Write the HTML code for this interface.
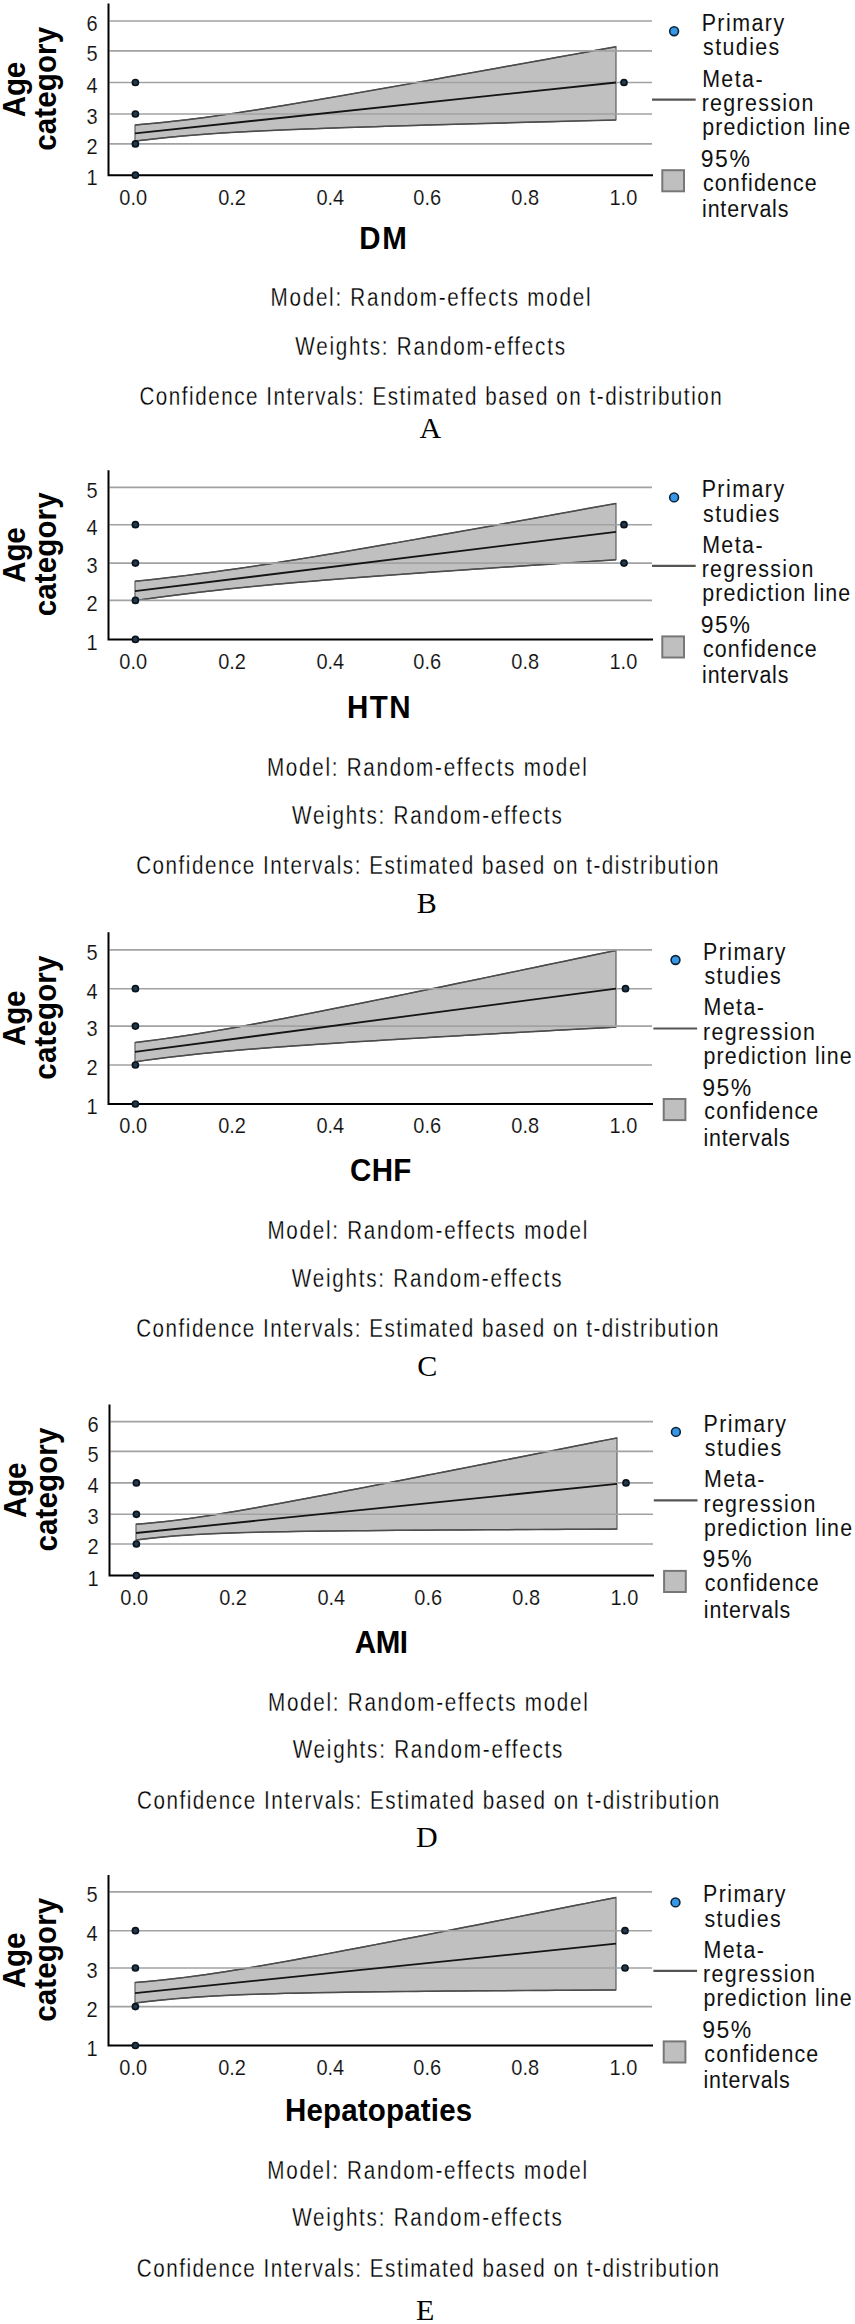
<!DOCTYPE html><html><head><meta charset="utf-8"><title>Meta-regression plots</title>
<style>html,body{margin:0;padding:0;background:#fff;overflow:hidden;}svg{display:block;}</style></head><body>
<svg width="855" height="2324" viewBox="0 0 855 2324">
<rect x="0" y="0" width="855" height="2324" fill="#ffffff"/>
<g>
<polygon points="135,125.1 145.02,124.09 155.04,123.17 165.06,122.17 175.08,121.09 185.1,119.94 195.12,118.7 205.15,117.39 215.17,116.02 225.19,114.6 235.21,113.12 245.23,111.6 255.25,110.04 265.27,108.45 275.29,106.83 285.31,105.19 295.33,103.53 305.35,101.85 315.38,100.16 325.4,98.45 335.42,96.73 345.44,95 355.46,93.26 365.48,91.52 375.5,89.76 385.52,88 395.54,86.24 405.56,84.47 415.58,82.7 425.6,80.92 435.62,79.14 445.65,77.36 455.67,75.57 465.69,73.78 475.71,71.99 485.73,70.19 495.75,68.4 505.77,66.6 515.79,64.8 525.81,63 535.83,61.2 545.85,59.39 555.88,57.59 565.9,55.78 575.92,53.97 585.94,52.16 595.96,50.36 605.98,48.54 616,46.7 616,120 605.98,120.23 595.96,120.49 585.94,120.75 575.92,121.01 565.9,121.27 555.88,121.54 545.85,121.8 535.83,122.07 525.81,122.34 515.79,122.61 505.77,122.88 495.75,123.15 485.73,123.43 475.71,123.7 465.69,123.98 455.67,124.26 445.65,124.55 435.62,124.83 425.6,125.12 415.58,125.42 405.56,125.72 395.54,126.02 385.52,126.32 375.5,126.64 365.48,126.95 355.46,127.28 345.44,127.61 335.42,127.95 325.4,128.31 315.38,128.67 305.35,129.05 295.33,129.44 285.31,129.85 275.29,130.28 265.27,130.73 255.25,131.21 245.23,131.72 235.21,132.27 225.19,132.87 215.17,133.51 205.15,134.21 195.12,134.98 185.1,135.81 175.08,136.72 165.06,137.71 155.04,138.78 145.02,139.94 135,141" fill="#c0c0c0" stroke="#5e5e5e" stroke-width="1.2"/>
<path d="M135 125.1 L145.02 124.09 L155.04 123.17 L165.06 122.17 L175.08 121.09 L185.1 119.94 L195.12 118.7 L205.15 117.39 L215.17 116.02 L225.19 114.6 L235.21 113.12 L245.23 111.6 L255.25 110.04 L265.27 108.45 L275.29 106.83 L285.31 105.19 L295.33 103.53 L305.35 101.85 L315.38 100.16 L325.4 98.45 L335.42 96.73 L345.44 95 L355.46 93.26 L365.48 91.52 L375.5 89.76 L385.52 88 L395.54 86.24 L405.56 84.47 L415.58 82.7 L425.6 80.92 L435.62 79.14 L445.65 77.36 L455.67 75.57 L465.69 73.78 L475.71 71.99 L485.73 70.19 L495.75 68.4 L505.77 66.6 L515.79 64.8 L525.81 63 L535.83 61.2 L545.85 59.39 L555.88 57.59 L565.9 55.78 L575.92 53.97 L585.94 52.16 L595.96 50.36 L605.98 48.54 L616 46.7 M135 141 L145.02 139.94 L155.04 138.78 L165.06 137.71 L175.08 136.72 L185.1 135.81 L195.12 134.98 L205.15 134.21 L215.17 133.51 L225.19 132.87 L235.21 132.27 L245.23 131.72 L255.25 131.21 L265.27 130.73 L275.29 130.28 L285.31 129.85 L295.33 129.44 L305.35 129.05 L315.38 128.67 L325.4 128.31 L335.42 127.95 L345.44 127.61 L355.46 127.28 L365.48 126.95 L375.5 126.64 L385.52 126.32 L395.54 126.02 L405.56 125.72 L415.58 125.42 L425.6 125.12 L435.62 124.83 L445.65 124.55 L455.67 124.26 L465.69 123.98 L475.71 123.7 L485.73 123.43 L495.75 123.15 L505.77 122.88 L515.79 122.61 L525.81 122.34 L535.83 122.07 L545.85 121.8 L555.88 121.54 L565.9 121.27 L575.92 121.01 L585.94 120.75 L595.96 120.49 L605.98 120.23 L616 120" fill="none" stroke="#4c4c4c" stroke-width="1.5"/>
<line x1="109.5" y1="143.9" x2="652" y2="143.9" stroke="#a2a2a2" stroke-width="1.6"/>
<line x1="109.5" y1="114" x2="652" y2="114" stroke="#a2a2a2" stroke-width="1.6"/>
<line x1="109.5" y1="82.5" x2="652" y2="82.5" stroke="#a2a2a2" stroke-width="1.6"/>
<line x1="109.5" y1="50.9" x2="652" y2="50.9" stroke="#a2a2a2" stroke-width="1.6"/>
<line x1="109.5" y1="21" x2="652" y2="21" stroke="#a2a2a2" stroke-width="1.6"/>
<line x1="135" y1="133.3" x2="616" y2="82.5" stroke="#141414" stroke-width="1.8"/>
<path d="M108.5 3.5 V175.2 H653" fill="none" stroke="#000" stroke-width="2"/>
<text transform="translate(97.5,185.35) scale(1,1.07)" x="0" y="0" font-family="Liberation Sans" font-size="20" text-anchor="end" fill="#111" stroke="#fff" stroke-width="0.12">1</text>
<text transform="translate(97.5,154.05) scale(1,1.07)" x="0" y="0" font-family="Liberation Sans" font-size="20" text-anchor="end" fill="#111" stroke="#fff" stroke-width="0.12">2</text>
<text transform="translate(97.5,124.15) scale(1,1.07)" x="0" y="0" font-family="Liberation Sans" font-size="20" text-anchor="end" fill="#111" stroke="#fff" stroke-width="0.12">3</text>
<text transform="translate(97.5,92.65) scale(1,1.07)" x="0" y="0" font-family="Liberation Sans" font-size="20" text-anchor="end" fill="#111" stroke="#fff" stroke-width="0.12">4</text>
<text transform="translate(97.5,61.05) scale(1,1.07)" x="0" y="0" font-family="Liberation Sans" font-size="20" text-anchor="end" fill="#111" stroke="#fff" stroke-width="0.12">5</text>
<text transform="translate(97.5,31.15) scale(1,1.07)" x="0" y="0" font-family="Liberation Sans" font-size="20" text-anchor="end" fill="#111" stroke="#fff" stroke-width="0.12">6</text>
<circle cx="135.4" cy="175.2" r="3.0" fill="#223a50" stroke="#0a141d" stroke-width="1.7"/>
<circle cx="135.4" cy="143.9" r="3.0" fill="#223a50" stroke="#0a141d" stroke-width="1.7"/>
<circle cx="135.4" cy="114" r="3.0" fill="#223a50" stroke="#0a141d" stroke-width="1.7"/>
<circle cx="135.4" cy="82.5" r="3.0" fill="#223a50" stroke="#0a141d" stroke-width="1.7"/>
<circle cx="624" cy="82.5" r="3.0" fill="#223a50" stroke="#0a141d" stroke-width="1.7"/>
<text transform="translate(25.3,117.25) rotate(-90) scale(1,1.05)" x="0" y="0" font-family="Liberation Sans" font-size="29.5" font-weight="bold" fill="#000" textLength="55.53" lengthAdjust="spacing">Age</text>
<text transform="translate(55.8,150.85) rotate(-90) scale(1,1.05)" x="0" y="0" font-family="Liberation Sans" font-size="29.5" font-weight="bold" fill="#000" textLength="123.98" lengthAdjust="spacing">category</text>
<circle cx="674.1" cy="31.2" r="4.4" fill="#3597e6" stroke="#0c2236" stroke-width="1.6"/>
<line x1="652" y1="99.7" x2="695.7" y2="99.7" stroke="#555" stroke-width="2.2"/>
<rect x="662.3" y="170.2" width="21.7" height="21.1" fill="#bfbfbf" stroke="#777" stroke-width="2"/>
</g>
<g>
<polygon points="135,581.3 145.02,580.24 155.04,579.15 165.06,578.01 175.08,576.84 185.1,575.62 195.12,574.36 205.15,573.06 215.17,571.72 225.19,570.34 235.21,568.92 245.23,567.47 255.25,565.98 265.27,564.46 275.29,562.91 285.31,561.34 295.33,559.74 305.35,558.13 315.38,556.49 325.4,554.83 335.42,553.16 345.44,551.48 355.46,549.78 365.48,548.07 375.5,546.35 385.52,544.61 395.54,542.87 405.56,541.13 415.58,539.37 425.6,537.61 435.62,535.84 445.65,534.07 455.67,532.29 465.69,530.51 475.71,528.72 485.73,526.93 495.75,525.14 505.77,523.34 515.79,521.54 525.81,519.73 535.83,517.93 545.85,516.12 555.88,514.31 565.9,512.49 575.92,510.68 585.94,508.86 595.96,507.04 605.98,505.22 616,503.4 616,559.8 605.98,560.45 595.96,561.1 585.94,561.76 575.92,562.41 565.9,563.07 555.88,563.73 545.85,564.39 535.83,565.06 525.81,565.72 515.79,566.39 505.77,567.06 495.75,567.74 485.73,568.42 475.71,569.1 465.69,569.79 455.67,570.48 445.65,571.17 435.62,571.87 425.6,572.58 415.58,573.29 405.56,574 395.54,574.73 385.52,575.46 375.5,576.2 365.48,576.96 355.46,577.72 345.44,578.49 335.42,579.28 325.4,580.08 315.38,580.9 305.35,581.73 295.33,582.59 285.31,583.46 275.29,584.37 265.27,585.29 255.25,586.25 245.23,587.23 235.21,588.25 225.19,589.3 215.17,590.4 205.15,591.53 195.12,592.7 185.1,593.91 175.08,595.17 165.06,596.47 155.04,597.81 145.02,599.18 135,600.6" fill="#c0c0c0" stroke="#5e5e5e" stroke-width="1.2"/>
<path d="M135 581.3 L145.02 580.24 L155.04 579.15 L165.06 578.01 L175.08 576.84 L185.1 575.62 L195.12 574.36 L205.15 573.06 L215.17 571.72 L225.19 570.34 L235.21 568.92 L245.23 567.47 L255.25 565.98 L265.27 564.46 L275.29 562.91 L285.31 561.34 L295.33 559.74 L305.35 558.13 L315.38 556.49 L325.4 554.83 L335.42 553.16 L345.44 551.48 L355.46 549.78 L365.48 548.07 L375.5 546.35 L385.52 544.61 L395.54 542.87 L405.56 541.13 L415.58 539.37 L425.6 537.61 L435.62 535.84 L445.65 534.07 L455.67 532.29 L465.69 530.51 L475.71 528.72 L485.73 526.93 L495.75 525.14 L505.77 523.34 L515.79 521.54 L525.81 519.73 L535.83 517.93 L545.85 516.12 L555.88 514.31 L565.9 512.49 L575.92 510.68 L585.94 508.86 L595.96 507.04 L605.98 505.22 L616 503.4 M135 600.6 L145.02 599.18 L155.04 597.81 L165.06 596.47 L175.08 595.17 L185.1 593.91 L195.12 592.7 L205.15 591.53 L215.17 590.4 L225.19 589.3 L235.21 588.25 L245.23 587.23 L255.25 586.25 L265.27 585.29 L275.29 584.37 L285.31 583.46 L295.33 582.59 L305.35 581.73 L315.38 580.9 L325.4 580.08 L335.42 579.28 L345.44 578.49 L355.46 577.72 L365.48 576.96 L375.5 576.2 L385.52 575.46 L395.54 574.73 L405.56 574 L415.58 573.29 L425.6 572.58 L435.62 571.87 L445.65 571.17 L455.67 570.48 L465.69 569.79 L475.71 569.1 L485.73 568.42 L495.75 567.74 L505.77 567.06 L515.79 566.39 L525.81 565.72 L535.83 565.06 L545.85 564.39 L555.88 563.73 L565.9 563.07 L575.92 562.41 L585.94 561.76 L595.96 561.1 L605.98 560.45 L616 559.8" fill="none" stroke="#4c4c4c" stroke-width="1.5"/>
<line x1="109.5" y1="600.4" x2="652" y2="600.4" stroke="#a2a2a2" stroke-width="1.6"/>
<line x1="109.5" y1="563.1" x2="652" y2="563.1" stroke="#a2a2a2" stroke-width="1.6"/>
<line x1="109.5" y1="524.7" x2="652" y2="524.7" stroke="#a2a2a2" stroke-width="1.6"/>
<line x1="109.5" y1="487.4" x2="652" y2="487.4" stroke="#a2a2a2" stroke-width="1.6"/>
<line x1="135" y1="591.2" x2="616" y2="531.8" stroke="#141414" stroke-width="1.8"/>
<path d="M108.5 470.3 V639.4 H653" fill="none" stroke="#000" stroke-width="2"/>
<text transform="translate(97.5,649.55) scale(1,1.07)" x="0" y="0" font-family="Liberation Sans" font-size="20" text-anchor="end" fill="#111" stroke="#fff" stroke-width="0.12">1</text>
<text transform="translate(97.5,610.55) scale(1,1.07)" x="0" y="0" font-family="Liberation Sans" font-size="20" text-anchor="end" fill="#111" stroke="#fff" stroke-width="0.12">2</text>
<text transform="translate(97.5,573.25) scale(1,1.07)" x="0" y="0" font-family="Liberation Sans" font-size="20" text-anchor="end" fill="#111" stroke="#fff" stroke-width="0.12">3</text>
<text transform="translate(97.5,534.85) scale(1,1.07)" x="0" y="0" font-family="Liberation Sans" font-size="20" text-anchor="end" fill="#111" stroke="#fff" stroke-width="0.12">4</text>
<text transform="translate(97.5,497.55) scale(1,1.07)" x="0" y="0" font-family="Liberation Sans" font-size="20" text-anchor="end" fill="#111" stroke="#fff" stroke-width="0.12">5</text>
<circle cx="135.4" cy="639.4" r="3.0" fill="#223a50" stroke="#0a141d" stroke-width="1.7"/>
<circle cx="135.4" cy="600.4" r="3.0" fill="#223a50" stroke="#0a141d" stroke-width="1.7"/>
<circle cx="135.4" cy="563.1" r="3.0" fill="#223a50" stroke="#0a141d" stroke-width="1.7"/>
<circle cx="135.4" cy="524.7" r="3.0" fill="#223a50" stroke="#0a141d" stroke-width="1.7"/>
<circle cx="624" cy="563.1" r="3.0" fill="#223a50" stroke="#0a141d" stroke-width="1.7"/>
<circle cx="624" cy="524.7" r="3.0" fill="#223a50" stroke="#0a141d" stroke-width="1.7"/>
<text transform="translate(25.3,582.75) rotate(-90) scale(1,1.05)" x="0" y="0" font-family="Liberation Sans" font-size="29.5" font-weight="bold" fill="#000" textLength="55.53" lengthAdjust="spacing">Age</text>
<text transform="translate(55.8,616.35) rotate(-90) scale(1,1.05)" x="0" y="0" font-family="Liberation Sans" font-size="29.5" font-weight="bold" fill="#000" textLength="123.98" lengthAdjust="spacing">category</text>
<circle cx="674.1" cy="497.4" r="4.4" fill="#3597e6" stroke="#0c2236" stroke-width="1.6"/>
<line x1="652" y1="565.9" x2="695.7" y2="565.9" stroke="#555" stroke-width="2.2"/>
<rect x="662.3" y="636.4" width="21.7" height="21.1" fill="#bfbfbf" stroke="#777" stroke-width="2"/>
</g>
<g>
<polygon points="135,1042.5 145.02,1041.28 155.04,1039.99 165.06,1038.63 175.08,1037.2 185.1,1035.71 195.12,1034.15 205.15,1032.54 215.17,1030.88 225.19,1029.17 235.21,1027.41 245.23,1025.62 255.25,1023.79 265.27,1021.93 275.29,1020.05 285.31,1018.14 295.33,1016.21 305.35,1014.26 315.38,1012.3 325.4,1010.32 335.42,1008.33 345.44,1006.33 355.46,1004.32 365.48,1002.3 375.5,1000.27 385.52,998.23 395.54,996.19 405.56,994.14 415.58,992.09 425.6,990.03 435.62,987.97 445.65,985.91 455.67,983.84 465.69,981.76 475.71,979.69 485.73,977.61 495.75,975.53 505.77,973.44 515.79,971.36 525.81,969.27 535.83,967.18 545.85,965.08 555.88,962.99 565.9,960.9 575.92,958.8 585.94,956.7 595.96,954.6 605.98,952.5 616,950.4 616,1027.1 605.98,1027.64 595.96,1028.18 585.94,1028.72 575.92,1029.27 565.9,1029.81 555.88,1030.36 545.85,1030.91 535.83,1031.46 525.81,1032.01 515.79,1032.56 505.77,1033.12 495.75,1033.67 485.73,1034.23 475.71,1034.8 465.69,1035.36 455.67,1035.93 445.65,1036.5 435.62,1037.08 425.6,1037.66 415.58,1038.24 405.56,1038.83 395.54,1039.42 385.52,1040.02 375.5,1040.63 365.48,1041.24 355.46,1041.87 345.44,1042.5 335.42,1043.14 325.4,1043.79 315.38,1044.45 305.35,1045.13 295.33,1045.83 285.31,1046.54 275.29,1047.27 265.27,1048.03 255.25,1048.81 245.23,1049.62 235.21,1050.47 225.19,1051.36 215.17,1052.29 205.15,1053.26 195.12,1054.3 185.1,1055.38 175.08,1056.53 165.06,1057.75 155.04,1059.03 145.02,1060.38 135,1061.8" fill="#c0c0c0" stroke="#5e5e5e" stroke-width="1.2"/>
<path d="M135 1042.5 L145.02 1041.28 L155.04 1039.99 L165.06 1038.63 L175.08 1037.2 L185.1 1035.71 L195.12 1034.15 L205.15 1032.54 L215.17 1030.88 L225.19 1029.17 L235.21 1027.41 L245.23 1025.62 L255.25 1023.79 L265.27 1021.93 L275.29 1020.05 L285.31 1018.14 L295.33 1016.21 L305.35 1014.26 L315.38 1012.3 L325.4 1010.32 L335.42 1008.33 L345.44 1006.33 L355.46 1004.32 L365.48 1002.3 L375.5 1000.27 L385.52 998.23 L395.54 996.19 L405.56 994.14 L415.58 992.09 L425.6 990.03 L435.62 987.97 L445.65 985.91 L455.67 983.84 L465.69 981.76 L475.71 979.69 L485.73 977.61 L495.75 975.53 L505.77 973.44 L515.79 971.36 L525.81 969.27 L535.83 967.18 L545.85 965.08 L555.88 962.99 L565.9 960.9 L575.92 958.8 L585.94 956.7 L595.96 954.6 L605.98 952.5 L616 950.4 M135 1061.8 L145.02 1060.38 L155.04 1059.03 L165.06 1057.75 L175.08 1056.53 L185.1 1055.38 L195.12 1054.3 L205.15 1053.26 L215.17 1052.29 L225.19 1051.36 L235.21 1050.47 L245.23 1049.62 L255.25 1048.81 L265.27 1048.03 L275.29 1047.27 L285.31 1046.54 L295.33 1045.83 L305.35 1045.13 L315.38 1044.45 L325.4 1043.79 L335.42 1043.14 L345.44 1042.5 L355.46 1041.87 L365.48 1041.24 L375.5 1040.63 L385.52 1040.02 L395.54 1039.42 L405.56 1038.83 L415.58 1038.24 L425.6 1037.66 L435.62 1037.08 L445.65 1036.5 L455.67 1035.93 L465.69 1035.36 L475.71 1034.8 L485.73 1034.23 L495.75 1033.67 L505.77 1033.12 L515.79 1032.56 L525.81 1032.01 L535.83 1031.46 L545.85 1030.91 L555.88 1030.36 L565.9 1029.81 L575.92 1029.27 L585.94 1028.72 L595.96 1028.18 L605.98 1027.64 L616 1027.1" fill="none" stroke="#4c4c4c" stroke-width="1.5"/>
<line x1="109.5" y1="1065" x2="652" y2="1065" stroke="#a2a2a2" stroke-width="1.6"/>
<line x1="109.5" y1="1026.1" x2="652" y2="1026.1" stroke="#a2a2a2" stroke-width="1.6"/>
<line x1="109.5" y1="988.7" x2="652" y2="988.7" stroke="#a2a2a2" stroke-width="1.6"/>
<line x1="109.5" y1="949.9" x2="652" y2="949.9" stroke="#a2a2a2" stroke-width="1.6"/>
<line x1="135" y1="1051.9" x2="616" y2="988.7" stroke="#141414" stroke-width="1.8"/>
<path d="M108.5 932.3 V1104 H653" fill="none" stroke="#000" stroke-width="2"/>
<text transform="translate(97.5,1114.15) scale(1,1.07)" x="0" y="0" font-family="Liberation Sans" font-size="20" text-anchor="end" fill="#111" stroke="#fff" stroke-width="0.12">1</text>
<text transform="translate(97.5,1075.15) scale(1,1.07)" x="0" y="0" font-family="Liberation Sans" font-size="20" text-anchor="end" fill="#111" stroke="#fff" stroke-width="0.12">2</text>
<text transform="translate(97.5,1036.25) scale(1,1.07)" x="0" y="0" font-family="Liberation Sans" font-size="20" text-anchor="end" fill="#111" stroke="#fff" stroke-width="0.12">3</text>
<text transform="translate(97.5,998.85) scale(1,1.07)" x="0" y="0" font-family="Liberation Sans" font-size="20" text-anchor="end" fill="#111" stroke="#fff" stroke-width="0.12">4</text>
<text transform="translate(97.5,960.05) scale(1,1.07)" x="0" y="0" font-family="Liberation Sans" font-size="20" text-anchor="end" fill="#111" stroke="#fff" stroke-width="0.12">5</text>
<circle cx="135.4" cy="1104" r="3.0" fill="#223a50" stroke="#0a141d" stroke-width="1.7"/>
<circle cx="135.4" cy="1065" r="3.0" fill="#223a50" stroke="#0a141d" stroke-width="1.7"/>
<circle cx="135.4" cy="1026.1" r="3.0" fill="#223a50" stroke="#0a141d" stroke-width="1.7"/>
<circle cx="135.4" cy="988.7" r="3.0" fill="#223a50" stroke="#0a141d" stroke-width="1.7"/>
<circle cx="625.5" cy="988.7" r="3.0" fill="#223a50" stroke="#0a141d" stroke-width="1.7"/>
<text transform="translate(25.3,1046.05) rotate(-90) scale(1,1.05)" x="0" y="0" font-family="Liberation Sans" font-size="29.5" font-weight="bold" fill="#000" textLength="55.53" lengthAdjust="spacing">Age</text>
<text transform="translate(55.8,1079.65) rotate(-90) scale(1,1.05)" x="0" y="0" font-family="Liberation Sans" font-size="29.5" font-weight="bold" fill="#000" textLength="123.98" lengthAdjust="spacing">category</text>
<circle cx="675.5" cy="960" r="4.4" fill="#3597e6" stroke="#0c2236" stroke-width="1.6"/>
<line x1="653.4" y1="1028.5" x2="697.1" y2="1028.5" stroke="#555" stroke-width="2.2"/>
<rect x="663.7" y="1099" width="21.7" height="21.1" fill="#bfbfbf" stroke="#777" stroke-width="2"/>
</g>
<g>
<polygon points="136,1524.2 146.02,1523.39 156.04,1522.46 166.06,1521.41 176.08,1520.23 186.1,1518.93 196.12,1517.53 206.15,1516.04 216.17,1514.47 226.19,1512.84 236.21,1511.15 246.23,1509.42 256.25,1507.66 266.27,1505.86 276.29,1504.04 286.31,1502.19 296.33,1500.33 306.35,1498.46 316.38,1496.57 326.4,1494.67 336.42,1492.77 346.44,1490.85 356.46,1488.93 366.48,1487 376.5,1485.06 386.52,1483.13 396.54,1481.18 406.56,1479.24 416.58,1477.29 426.6,1475.33 436.62,1473.38 446.65,1471.42 456.67,1469.46 466.69,1467.49 476.71,1465.53 486.73,1463.56 496.75,1461.6 506.77,1459.63 516.79,1457.66 526.81,1455.69 536.83,1453.71 546.85,1451.74 556.88,1449.76 566.9,1447.79 576.92,1445.81 586.94,1443.84 596.96,1441.86 606.98,1439.88 617,1437.9 617,1529.1 606.98,1529.15 596.96,1529.19 586.94,1529.24 576.92,1529.29 566.9,1529.34 556.88,1529.39 546.85,1529.44 536.83,1529.49 526.81,1529.54 516.79,1529.59 506.77,1529.65 496.75,1529.7 486.73,1529.76 476.71,1529.82 466.69,1529.88 456.67,1529.94 446.65,1530.01 436.62,1530.07 426.6,1530.14 416.58,1530.21 406.56,1530.29 396.54,1530.37 386.52,1530.45 376.5,1530.54 366.48,1530.63 356.46,1530.72 346.44,1530.83 336.42,1530.93 326.4,1531.05 316.38,1531.18 306.35,1531.32 296.33,1531.47 286.31,1531.63 276.29,1531.81 266.27,1532.02 256.25,1532.24 246.23,1532.5 236.21,1532.8 226.19,1533.14 216.17,1533.53 206.15,1533.99 196.12,1534.52 186.1,1535.14 176.08,1535.87 166.06,1536.72 156.04,1537.69 146.02,1538.78 136,1540" fill="#c0c0c0" stroke="#5e5e5e" stroke-width="1.2"/>
<path d="M136 1524.2 L146.02 1523.39 L156.04 1522.46 L166.06 1521.41 L176.08 1520.23 L186.1 1518.93 L196.12 1517.53 L206.15 1516.04 L216.17 1514.47 L226.19 1512.84 L236.21 1511.15 L246.23 1509.42 L256.25 1507.66 L266.27 1505.86 L276.29 1504.04 L286.31 1502.19 L296.33 1500.33 L306.35 1498.46 L316.38 1496.57 L326.4 1494.67 L336.42 1492.77 L346.44 1490.85 L356.46 1488.93 L366.48 1487 L376.5 1485.06 L386.52 1483.13 L396.54 1481.18 L406.56 1479.24 L416.58 1477.29 L426.6 1475.33 L436.62 1473.38 L446.65 1471.42 L456.67 1469.46 L466.69 1467.49 L476.71 1465.53 L486.73 1463.56 L496.75 1461.6 L506.77 1459.63 L516.79 1457.66 L526.81 1455.69 L536.83 1453.71 L546.85 1451.74 L556.88 1449.76 L566.9 1447.79 L576.92 1445.81 L586.94 1443.84 L596.96 1441.86 L606.98 1439.88 L617 1437.9 M136 1540 L146.02 1538.78 L156.04 1537.69 L166.06 1536.72 L176.08 1535.87 L186.1 1535.14 L196.12 1534.52 L206.15 1533.99 L216.17 1533.53 L226.19 1533.14 L236.21 1532.8 L246.23 1532.5 L256.25 1532.24 L266.27 1532.02 L276.29 1531.81 L286.31 1531.63 L296.33 1531.47 L306.35 1531.32 L316.38 1531.18 L326.4 1531.05 L336.42 1530.93 L346.44 1530.83 L356.46 1530.72 L366.48 1530.63 L376.5 1530.54 L386.52 1530.45 L396.54 1530.37 L406.56 1530.29 L416.58 1530.21 L426.6 1530.14 L436.62 1530.07 L446.65 1530.01 L456.67 1529.94 L466.69 1529.88 L476.71 1529.82 L486.73 1529.76 L496.75 1529.7 L506.77 1529.65 L516.79 1529.59 L526.81 1529.54 L536.83 1529.49 L546.85 1529.44 L556.88 1529.39 L566.9 1529.34 L576.92 1529.29 L586.94 1529.24 L596.96 1529.19 L606.98 1529.15 L617 1529.1" fill="none" stroke="#4c4c4c" stroke-width="1.5"/>
<line x1="110.5" y1="1544" x2="653" y2="1544" stroke="#a2a2a2" stroke-width="1.6"/>
<line x1="110.5" y1="1514.3" x2="653" y2="1514.3" stroke="#a2a2a2" stroke-width="1.6"/>
<line x1="110.5" y1="1482.9" x2="653" y2="1482.9" stroke="#a2a2a2" stroke-width="1.6"/>
<line x1="110.5" y1="1451.4" x2="653" y2="1451.4" stroke="#a2a2a2" stroke-width="1.6"/>
<line x1="110.5" y1="1421.6" x2="653" y2="1421.6" stroke="#a2a2a2" stroke-width="1.6"/>
<line x1="136" y1="1533" x2="617" y2="1483.9" stroke="#141414" stroke-width="1.8"/>
<path d="M109.5 1404.6 V1575.6 H654" fill="none" stroke="#000" stroke-width="2"/>
<text transform="translate(98.5,1585.75) scale(1,1.07)" x="0" y="0" font-family="Liberation Sans" font-size="20" text-anchor="end" fill="#111" stroke="#fff" stroke-width="0.12">1</text>
<text transform="translate(98.5,1554.15) scale(1,1.07)" x="0" y="0" font-family="Liberation Sans" font-size="20" text-anchor="end" fill="#111" stroke="#fff" stroke-width="0.12">2</text>
<text transform="translate(98.5,1524.45) scale(1,1.07)" x="0" y="0" font-family="Liberation Sans" font-size="20" text-anchor="end" fill="#111" stroke="#fff" stroke-width="0.12">3</text>
<text transform="translate(98.5,1493.05) scale(1,1.07)" x="0" y="0" font-family="Liberation Sans" font-size="20" text-anchor="end" fill="#111" stroke="#fff" stroke-width="0.12">4</text>
<text transform="translate(98.5,1461.55) scale(1,1.07)" x="0" y="0" font-family="Liberation Sans" font-size="20" text-anchor="end" fill="#111" stroke="#fff" stroke-width="0.12">5</text>
<text transform="translate(98.5,1431.75) scale(1,1.07)" x="0" y="0" font-family="Liberation Sans" font-size="20" text-anchor="end" fill="#111" stroke="#fff" stroke-width="0.12">6</text>
<circle cx="136.4" cy="1575.6" r="3.0" fill="#223a50" stroke="#0a141d" stroke-width="1.7"/>
<circle cx="136.4" cy="1544" r="3.0" fill="#223a50" stroke="#0a141d" stroke-width="1.7"/>
<circle cx="136.4" cy="1514.3" r="3.0" fill="#223a50" stroke="#0a141d" stroke-width="1.7"/>
<circle cx="136.4" cy="1482.9" r="3.0" fill="#223a50" stroke="#0a141d" stroke-width="1.7"/>
<circle cx="626" cy="1482.9" r="3.0" fill="#223a50" stroke="#0a141d" stroke-width="1.7"/>
<text transform="translate(26.3,1518) rotate(-90) scale(1,1.05)" x="0" y="0" font-family="Liberation Sans" font-size="29.5" font-weight="bold" fill="#000" textLength="55.53" lengthAdjust="spacing">Age</text>
<text transform="translate(56.8,1551.6) rotate(-90) scale(1,1.05)" x="0" y="0" font-family="Liberation Sans" font-size="29.5" font-weight="bold" fill="#000" textLength="123.98" lengthAdjust="spacing">category</text>
<circle cx="675.9" cy="1431.9" r="4.4" fill="#3597e6" stroke="#0c2236" stroke-width="1.6"/>
<line x1="653.8" y1="1500.4" x2="697.5" y2="1500.4" stroke="#555" stroke-width="2.2"/>
<rect x="664.1" y="1570.9" width="21.7" height="21.1" fill="#bfbfbf" stroke="#777" stroke-width="2"/>
</g>
<g>
<polygon points="135,1982.5 145.02,1981.67 155.04,1980.74 165.06,1979.71 175.08,1978.59 185.1,1977.37 195.12,1976.06 205.15,1974.66 215.17,1973.2 225.19,1971.66 235.21,1970.07 245.23,1968.43 255.25,1966.74 265.27,1965.01 275.29,1963.26 285.31,1961.47 295.33,1959.66 305.35,1957.83 315.38,1955.99 325.4,1954.12 335.42,1952.25 345.44,1950.36 355.46,1948.46 365.48,1946.55 375.5,1944.63 385.52,1942.7 395.54,1940.77 405.56,1938.83 415.58,1936.89 425.6,1934.94 435.62,1932.99 445.65,1931.03 455.67,1929.07 465.69,1927.11 475.71,1925.14 485.73,1923.17 495.75,1921.2 505.77,1919.23 515.79,1917.25 525.81,1915.27 535.83,1913.29 545.85,1911.31 555.88,1909.33 565.9,1907.34 575.92,1905.36 585.94,1903.37 595.96,1901.38 605.98,1899.39 616,1897.4 616,1990 605.98,1990.05 595.96,1990.11 585.94,1990.16 575.92,1990.22 565.9,1990.28 555.88,1990.33 545.85,1990.4 535.83,1990.46 525.81,1990.52 515.79,1990.59 505.77,1990.65 495.75,1990.72 485.73,1990.8 475.71,1990.87 465.69,1990.95 455.67,1991.03 445.65,1991.11 435.62,1991.2 425.6,1991.29 415.58,1991.39 405.56,1991.49 395.54,1991.59 385.52,1991.7 375.5,1991.82 365.48,1991.95 355.46,1992.08 345.44,1992.22 335.42,1992.38 325.4,1992.55 315.38,1992.73 305.35,1992.92 295.33,1993.14 285.31,1993.37 275.29,1993.63 265.27,1993.92 255.25,1994.24 245.23,1994.59 235.21,1994.99 225.19,1995.45 215.17,1995.95 205.15,1996.53 195.12,1997.18 185.1,1997.91 175.08,1998.74 165.06,1999.66 155.04,2000.67 145.02,2001.79 135,2003" fill="#c0c0c0" stroke="#5e5e5e" stroke-width="1.2"/>
<path d="M135 1982.5 L145.02 1981.67 L155.04 1980.74 L165.06 1979.71 L175.08 1978.59 L185.1 1977.37 L195.12 1976.06 L205.15 1974.66 L215.17 1973.2 L225.19 1971.66 L235.21 1970.07 L245.23 1968.43 L255.25 1966.74 L265.27 1965.01 L275.29 1963.26 L285.31 1961.47 L295.33 1959.66 L305.35 1957.83 L315.38 1955.99 L325.4 1954.12 L335.42 1952.25 L345.44 1950.36 L355.46 1948.46 L365.48 1946.55 L375.5 1944.63 L385.52 1942.7 L395.54 1940.77 L405.56 1938.83 L415.58 1936.89 L425.6 1934.94 L435.62 1932.99 L445.65 1931.03 L455.67 1929.07 L465.69 1927.11 L475.71 1925.14 L485.73 1923.17 L495.75 1921.2 L505.77 1919.23 L515.79 1917.25 L525.81 1915.27 L535.83 1913.29 L545.85 1911.31 L555.88 1909.33 L565.9 1907.34 L575.92 1905.36 L585.94 1903.37 L595.96 1901.38 L605.98 1899.39 L616 1897.4 M135 2003 L145.02 2001.79 L155.04 2000.67 L165.06 1999.66 L175.08 1998.74 L185.1 1997.91 L195.12 1997.18 L205.15 1996.53 L215.17 1995.95 L225.19 1995.45 L235.21 1994.99 L245.23 1994.59 L255.25 1994.24 L265.27 1993.92 L275.29 1993.63 L285.31 1993.37 L295.33 1993.14 L305.35 1992.92 L315.38 1992.73 L325.4 1992.55 L335.42 1992.38 L345.44 1992.22 L355.46 1992.08 L365.48 1991.95 L375.5 1991.82 L385.52 1991.7 L395.54 1991.59 L405.56 1991.49 L415.58 1991.39 L425.6 1991.29 L435.62 1991.2 L445.65 1991.11 L455.67 1991.03 L465.69 1990.95 L475.71 1990.87 L485.73 1990.8 L495.75 1990.72 L505.77 1990.65 L515.79 1990.59 L525.81 1990.52 L535.83 1990.46 L545.85 1990.4 L555.88 1990.33 L565.9 1990.28 L575.92 1990.22 L585.94 1990.16 L595.96 1990.11 L605.98 1990.05 L616 1990" fill="none" stroke="#4c4c4c" stroke-width="1.5"/>
<line x1="109.5" y1="2006.6" x2="652" y2="2006.6" stroke="#a2a2a2" stroke-width="1.6"/>
<line x1="109.5" y1="1968" x2="652" y2="1968" stroke="#a2a2a2" stroke-width="1.6"/>
<line x1="109.5" y1="1930.7" x2="652" y2="1930.7" stroke="#a2a2a2" stroke-width="1.6"/>
<line x1="109.5" y1="1891.9" x2="652" y2="1891.9" stroke="#a2a2a2" stroke-width="1.6"/>
<line x1="135" y1="1993.1" x2="616" y2="1943.7" stroke="#141414" stroke-width="1.8"/>
<path d="M108.5 1875 V2045.5 H653" fill="none" stroke="#000" stroke-width="2"/>
<text transform="translate(97.5,2055.65) scale(1,1.07)" x="0" y="0" font-family="Liberation Sans" font-size="20" text-anchor="end" fill="#111" stroke="#fff" stroke-width="0.12">1</text>
<text transform="translate(97.5,2016.75) scale(1,1.07)" x="0" y="0" font-family="Liberation Sans" font-size="20" text-anchor="end" fill="#111" stroke="#fff" stroke-width="0.12">2</text>
<text transform="translate(97.5,1978.15) scale(1,1.07)" x="0" y="0" font-family="Liberation Sans" font-size="20" text-anchor="end" fill="#111" stroke="#fff" stroke-width="0.12">3</text>
<text transform="translate(97.5,1940.85) scale(1,1.07)" x="0" y="0" font-family="Liberation Sans" font-size="20" text-anchor="end" fill="#111" stroke="#fff" stroke-width="0.12">4</text>
<text transform="translate(97.5,1902.05) scale(1,1.07)" x="0" y="0" font-family="Liberation Sans" font-size="20" text-anchor="end" fill="#111" stroke="#fff" stroke-width="0.12">5</text>
<circle cx="135.4" cy="2045.5" r="3.0" fill="#223a50" stroke="#0a141d" stroke-width="1.7"/>
<circle cx="135.4" cy="2006.6" r="3.0" fill="#223a50" stroke="#0a141d" stroke-width="1.7"/>
<circle cx="135.4" cy="1968" r="3.0" fill="#223a50" stroke="#0a141d" stroke-width="1.7"/>
<circle cx="135.4" cy="1930.7" r="3.0" fill="#223a50" stroke="#0a141d" stroke-width="1.7"/>
<circle cx="625" cy="1968" r="3.0" fill="#223a50" stroke="#0a141d" stroke-width="1.7"/>
<circle cx="625" cy="1930.7" r="3.0" fill="#223a50" stroke="#0a141d" stroke-width="1.7"/>
<text transform="translate(25.3,1988.15) rotate(-90) scale(1,1.05)" x="0" y="0" font-family="Liberation Sans" font-size="29.5" font-weight="bold" fill="#000" textLength="55.53" lengthAdjust="spacing">Age</text>
<text transform="translate(55.8,2021.75) rotate(-90) scale(1,1.05)" x="0" y="0" font-family="Liberation Sans" font-size="29.5" font-weight="bold" fill="#000" textLength="123.98" lengthAdjust="spacing">category</text>
<circle cx="675.5" cy="1902.4" r="4.4" fill="#3597e6" stroke="#0c2236" stroke-width="1.6"/>
<line x1="653.4" y1="1970.9" x2="697.1" y2="1970.9" stroke="#555" stroke-width="2.2"/>
<rect x="663.7" y="2041.4" width="21.7" height="21.1" fill="#bfbfbf" stroke="#777" stroke-width="2"/>
</g>
<text transform="translate(270.58,306.3) scale(0.86,1.05)" x="0" y="0" font-family="Liberation Sans" font-size="24" fill="#000" stroke="#fff" stroke-width="0.25" textLength="371.97" lengthAdjust="spacing">Model: Random-effects model</text>
<text transform="translate(295.3,354.6) scale(0.86,1.05)" x="0" y="0" font-family="Liberation Sans" font-size="24" fill="#000" stroke="#fff" stroke-width="0.25" textLength="313.6" lengthAdjust="spacing">Weights: Random-effects</text>
<text transform="translate(139.44,405.1) scale(0.86,1.05)" x="0" y="0" font-family="Liberation Sans" font-size="24" fill="#000" stroke="#fff" stroke-width="0.25" textLength="677.07" lengthAdjust="spacing">Confidence Intervals: Estimated based on t-distribution</text>
<text transform="translate(359.3,249) scale(1.0,1.06)" x="0" y="0" font-family="Liberation Sans" font-size="29.5" font-weight="bold" fill="#000" textLength="47.49" lengthAdjust="spacing">DM</text>
<text x="419.6" y="438" font-family="Liberation Serif" font-size="30" fill="#000">A</text>
<text transform="translate(701.64,30.8) scale(0.93,1.08)" x="0" y="0" font-family="Liberation Sans" font-size="23" fill="#111" textLength="88.69" lengthAdjust="spacing">Primary</text>
<text transform="translate(703.07,55.3) scale(0.93,1.08)" x="0" y="0" font-family="Liberation Sans" font-size="23" fill="#111" textLength="81.98" lengthAdjust="spacing">studies</text>
<text transform="translate(702.14,86.5) scale(0.93,1.08)" x="0" y="0" font-family="Liberation Sans" font-size="23" fill="#111" textLength="64.95" lengthAdjust="spacing">Meta-</text>
<text transform="translate(701.64,111.1) scale(0.93,1.08)" x="0" y="0" font-family="Liberation Sans" font-size="23" fill="#111" textLength="120.27" lengthAdjust="spacing">regression</text>
<text transform="translate(702.14,135) scale(0.93,1.08)" x="0" y="0" font-family="Liberation Sans" font-size="23" fill="#111" textLength="159.27" lengthAdjust="spacing">prediction line</text>
<text transform="translate(700.8,166.7) scale(1.0,1.08)" x="0" y="0" font-family="Liberation Sans" font-size="23" fill="#111" textLength="49.05" lengthAdjust="spacing">95%</text>
<text transform="translate(702.97,190.5) scale(0.93,1.08)" x="0" y="0" font-family="Liberation Sans" font-size="23" fill="#111" textLength="122.36" lengthAdjust="spacing">confidence</text>
<text transform="translate(702.04,216.8) scale(0.93,1.08)" x="0" y="0" font-family="Liberation Sans" font-size="23" fill="#111" textLength="92.87" lengthAdjust="spacing">intervals</text>
<text transform="translate(119.3,204.6) scale(1.0,1.07)" x="0" y="0" font-family="Liberation Sans" font-size="20" fill="#111" stroke="#fff" stroke-width="0.12">0.0</text>
<text transform="translate(218.2,204.6) scale(1.0,1.07)" x="0" y="0" font-family="Liberation Sans" font-size="20" fill="#111" stroke="#fff" stroke-width="0.12">0.2</text>
<text transform="translate(316.4,204.6) scale(1.0,1.07)" x="0" y="0" font-family="Liberation Sans" font-size="20" fill="#111" stroke="#fff" stroke-width="0.12">0.4</text>
<text transform="translate(413.3,204.6) scale(1.0,1.07)" x="0" y="0" font-family="Liberation Sans" font-size="20" fill="#111" stroke="#fff" stroke-width="0.12">0.6</text>
<text transform="translate(511.3,204.6) scale(1.0,1.07)" x="0" y="0" font-family="Liberation Sans" font-size="20" fill="#111" stroke="#fff" stroke-width="0.12">0.8</text>
<text transform="translate(609.5,204.6) scale(1.0,1.07)" x="0" y="0" font-family="Liberation Sans" font-size="20" fill="#111" stroke="#fff" stroke-width="0.12">1.0</text>
<text transform="translate(266.88,775.8) scale(0.86,1.05)" x="0" y="0" font-family="Liberation Sans" font-size="24" fill="#000" stroke="#fff" stroke-width="0.25" textLength="371.97" lengthAdjust="spacing">Model: Random-effects model</text>
<text transform="translate(292.1,824) scale(0.86,1.05)" x="0" y="0" font-family="Liberation Sans" font-size="24" fill="#000" stroke="#fff" stroke-width="0.25" textLength="313.6" lengthAdjust="spacing">Weights: Random-effects</text>
<text transform="translate(136.14,874.3) scale(0.86,1.05)" x="0" y="0" font-family="Liberation Sans" font-size="24" fill="#000" stroke="#fff" stroke-width="0.25" textLength="677.07" lengthAdjust="spacing">Confidence Intervals: Estimated based on t-distribution</text>
<text transform="translate(346.9,718.4) scale(1.0,1.06)" x="0" y="0" font-family="Liberation Sans" font-size="29.5" font-weight="bold" fill="#000" textLength="63.74" lengthAdjust="spacing">HTN</text>
<text x="416.8" y="913" font-family="Liberation Serif" font-size="30" fill="#000">B</text>
<text transform="translate(701.64,497) scale(0.93,1.08)" x="0" y="0" font-family="Liberation Sans" font-size="23" fill="#111" textLength="88.69" lengthAdjust="spacing">Primary</text>
<text transform="translate(703.07,521.5) scale(0.93,1.08)" x="0" y="0" font-family="Liberation Sans" font-size="23" fill="#111" textLength="81.98" lengthAdjust="spacing">studies</text>
<text transform="translate(702.14,552.7) scale(0.93,1.08)" x="0" y="0" font-family="Liberation Sans" font-size="23" fill="#111" textLength="64.95" lengthAdjust="spacing">Meta-</text>
<text transform="translate(701.64,577.3) scale(0.93,1.08)" x="0" y="0" font-family="Liberation Sans" font-size="23" fill="#111" textLength="120.27" lengthAdjust="spacing">regression</text>
<text transform="translate(702.14,601.2) scale(0.93,1.08)" x="0" y="0" font-family="Liberation Sans" font-size="23" fill="#111" textLength="159.27" lengthAdjust="spacing">prediction line</text>
<text transform="translate(700.8,632.9) scale(1.0,1.08)" x="0" y="0" font-family="Liberation Sans" font-size="23" fill="#111" textLength="49.05" lengthAdjust="spacing">95%</text>
<text transform="translate(702.97,656.7) scale(0.93,1.08)" x="0" y="0" font-family="Liberation Sans" font-size="23" fill="#111" textLength="122.36" lengthAdjust="spacing">confidence</text>
<text transform="translate(702.04,683) scale(0.93,1.08)" x="0" y="0" font-family="Liberation Sans" font-size="23" fill="#111" textLength="92.87" lengthAdjust="spacing">intervals</text>
<text transform="translate(119.3,668.8) scale(1.0,1.07)" x="0" y="0" font-family="Liberation Sans" font-size="20" fill="#111" stroke="#fff" stroke-width="0.12">0.0</text>
<text transform="translate(218.2,668.8) scale(1.0,1.07)" x="0" y="0" font-family="Liberation Sans" font-size="20" fill="#111" stroke="#fff" stroke-width="0.12">0.2</text>
<text transform="translate(316.4,668.8) scale(1.0,1.07)" x="0" y="0" font-family="Liberation Sans" font-size="20" fill="#111" stroke="#fff" stroke-width="0.12">0.4</text>
<text transform="translate(413.3,668.8) scale(1.0,1.07)" x="0" y="0" font-family="Liberation Sans" font-size="20" fill="#111" stroke="#fff" stroke-width="0.12">0.6</text>
<text transform="translate(511.3,668.8) scale(1.0,1.07)" x="0" y="0" font-family="Liberation Sans" font-size="20" fill="#111" stroke="#fff" stroke-width="0.12">0.8</text>
<text transform="translate(609.5,668.8) scale(1.0,1.07)" x="0" y="0" font-family="Liberation Sans" font-size="20" fill="#111" stroke="#fff" stroke-width="0.12">1.0</text>
<text transform="translate(267.38,1238.7) scale(0.86,1.05)" x="0" y="0" font-family="Liberation Sans" font-size="24" fill="#000" stroke="#fff" stroke-width="0.25" textLength="371.97" lengthAdjust="spacing">Model: Random-effects model</text>
<text transform="translate(291.8,1287.2) scale(0.86,1.05)" x="0" y="0" font-family="Liberation Sans" font-size="24" fill="#000" stroke="#fff" stroke-width="0.25" textLength="313.6" lengthAdjust="spacing">Weights: Random-effects</text>
<text transform="translate(136.14,1336.9) scale(0.86,1.05)" x="0" y="0" font-family="Liberation Sans" font-size="24" fill="#000" stroke="#fff" stroke-width="0.25" textLength="677.07" lengthAdjust="spacing">Confidence Intervals: Estimated based on t-distribution</text>
<text transform="translate(350,1181) scale(1.0,1.06)" x="0" y="0" font-family="Liberation Sans" font-size="29.5" font-weight="bold" fill="#000" textLength="61.34" lengthAdjust="spacing">CHF</text>
<text x="417.2" y="1376.4" font-family="Liberation Serif" font-size="30" fill="#000">C</text>
<text transform="translate(703.04,959.6) scale(0.93,1.08)" x="0" y="0" font-family="Liberation Sans" font-size="23" fill="#111" textLength="88.69" lengthAdjust="spacing">Primary</text>
<text transform="translate(704.47,984.1) scale(0.93,1.08)" x="0" y="0" font-family="Liberation Sans" font-size="23" fill="#111" textLength="81.98" lengthAdjust="spacing">studies</text>
<text transform="translate(703.54,1015.3) scale(0.93,1.08)" x="0" y="0" font-family="Liberation Sans" font-size="23" fill="#111" textLength="64.95" lengthAdjust="spacing">Meta-</text>
<text transform="translate(703.04,1039.9) scale(0.93,1.08)" x="0" y="0" font-family="Liberation Sans" font-size="23" fill="#111" textLength="120.27" lengthAdjust="spacing">regression</text>
<text transform="translate(703.54,1063.8) scale(0.93,1.08)" x="0" y="0" font-family="Liberation Sans" font-size="23" fill="#111" textLength="159.27" lengthAdjust="spacing">prediction line</text>
<text transform="translate(702.2,1095.5) scale(1.0,1.08)" x="0" y="0" font-family="Liberation Sans" font-size="23" fill="#111" textLength="49.05" lengthAdjust="spacing">95%</text>
<text transform="translate(704.37,1119.3) scale(0.93,1.08)" x="0" y="0" font-family="Liberation Sans" font-size="23" fill="#111" textLength="122.36" lengthAdjust="spacing">confidence</text>
<text transform="translate(703.44,1145.6) scale(0.93,1.08)" x="0" y="0" font-family="Liberation Sans" font-size="23" fill="#111" textLength="92.87" lengthAdjust="spacing">intervals</text>
<text transform="translate(119.3,1133.4) scale(1.0,1.07)" x="0" y="0" font-family="Liberation Sans" font-size="20" fill="#111" stroke="#fff" stroke-width="0.12">0.0</text>
<text transform="translate(218.2,1133.4) scale(1.0,1.07)" x="0" y="0" font-family="Liberation Sans" font-size="20" fill="#111" stroke="#fff" stroke-width="0.12">0.2</text>
<text transform="translate(316.4,1133.4) scale(1.0,1.07)" x="0" y="0" font-family="Liberation Sans" font-size="20" fill="#111" stroke="#fff" stroke-width="0.12">0.4</text>
<text transform="translate(413.3,1133.4) scale(1.0,1.07)" x="0" y="0" font-family="Liberation Sans" font-size="20" fill="#111" stroke="#fff" stroke-width="0.12">0.6</text>
<text transform="translate(511.3,1133.4) scale(1.0,1.07)" x="0" y="0" font-family="Liberation Sans" font-size="20" fill="#111" stroke="#fff" stroke-width="0.12">0.8</text>
<text transform="translate(609.5,1133.4) scale(1.0,1.07)" x="0" y="0" font-family="Liberation Sans" font-size="20" fill="#111" stroke="#fff" stroke-width="0.12">1.0</text>
<text transform="translate(267.98,1710.5) scale(0.86,1.05)" x="0" y="0" font-family="Liberation Sans" font-size="24" fill="#000" stroke="#fff" stroke-width="0.25" textLength="371.97" lengthAdjust="spacing">Model: Random-effects model</text>
<text transform="translate(292.7,1758.2) scale(0.86,1.05)" x="0" y="0" font-family="Liberation Sans" font-size="24" fill="#000" stroke="#fff" stroke-width="0.25" textLength="313.6" lengthAdjust="spacing">Weights: Random-effects</text>
<text transform="translate(137.04,1809) scale(0.86,1.05)" x="0" y="0" font-family="Liberation Sans" font-size="24" fill="#000" stroke="#fff" stroke-width="0.25" textLength="677.07" lengthAdjust="spacing">Confidence Intervals: Estimated based on t-distribution</text>
<text transform="translate(354.8,1653.4) scale(1.0,1.06)" x="0" y="0" font-family="Liberation Sans" font-size="29.5" font-weight="bold" fill="#000" textLength="53.28" lengthAdjust="spacing">AMI</text>
<text x="416.1" y="1847.2" font-family="Liberation Serif" font-size="30" fill="#000">D</text>
<text transform="translate(703.44,1431.5) scale(0.93,1.08)" x="0" y="0" font-family="Liberation Sans" font-size="23" fill="#111" textLength="88.69" lengthAdjust="spacing">Primary</text>
<text transform="translate(704.87,1456) scale(0.93,1.08)" x="0" y="0" font-family="Liberation Sans" font-size="23" fill="#111" textLength="81.98" lengthAdjust="spacing">studies</text>
<text transform="translate(703.94,1487.2) scale(0.93,1.08)" x="0" y="0" font-family="Liberation Sans" font-size="23" fill="#111" textLength="64.95" lengthAdjust="spacing">Meta-</text>
<text transform="translate(703.44,1511.8) scale(0.93,1.08)" x="0" y="0" font-family="Liberation Sans" font-size="23" fill="#111" textLength="120.27" lengthAdjust="spacing">regression</text>
<text transform="translate(703.94,1535.7) scale(0.93,1.08)" x="0" y="0" font-family="Liberation Sans" font-size="23" fill="#111" textLength="159.27" lengthAdjust="spacing">prediction line</text>
<text transform="translate(702.6,1567.4) scale(1.0,1.08)" x="0" y="0" font-family="Liberation Sans" font-size="23" fill="#111" textLength="49.05" lengthAdjust="spacing">95%</text>
<text transform="translate(704.77,1591.2) scale(0.93,1.08)" x="0" y="0" font-family="Liberation Sans" font-size="23" fill="#111" textLength="122.36" lengthAdjust="spacing">confidence</text>
<text transform="translate(703.84,1617.5) scale(0.93,1.08)" x="0" y="0" font-family="Liberation Sans" font-size="23" fill="#111" textLength="92.87" lengthAdjust="spacing">intervals</text>
<text transform="translate(120.3,1605) scale(1.0,1.07)" x="0" y="0" font-family="Liberation Sans" font-size="20" fill="#111" stroke="#fff" stroke-width="0.12">0.0</text>
<text transform="translate(219.2,1605) scale(1.0,1.07)" x="0" y="0" font-family="Liberation Sans" font-size="20" fill="#111" stroke="#fff" stroke-width="0.12">0.2</text>
<text transform="translate(317.4,1605) scale(1.0,1.07)" x="0" y="0" font-family="Liberation Sans" font-size="20" fill="#111" stroke="#fff" stroke-width="0.12">0.4</text>
<text transform="translate(414.3,1605) scale(1.0,1.07)" x="0" y="0" font-family="Liberation Sans" font-size="20" fill="#111" stroke="#fff" stroke-width="0.12">0.6</text>
<text transform="translate(512.3,1605) scale(1.0,1.07)" x="0" y="0" font-family="Liberation Sans" font-size="20" fill="#111" stroke="#fff" stroke-width="0.12">0.8</text>
<text transform="translate(610.5,1605) scale(1.0,1.07)" x="0" y="0" font-family="Liberation Sans" font-size="20" fill="#111" stroke="#fff" stroke-width="0.12">1.0</text>
<text transform="translate(267.28,2178.8) scale(0.86,1.05)" x="0" y="0" font-family="Liberation Sans" font-size="24" fill="#000" stroke="#fff" stroke-width="0.25" textLength="371.97" lengthAdjust="spacing">Model: Random-effects model</text>
<text transform="translate(292.2,2226.4) scale(0.86,1.05)" x="0" y="0" font-family="Liberation Sans" font-size="24" fill="#000" stroke="#fff" stroke-width="0.25" textLength="313.6" lengthAdjust="spacing">Weights: Random-effects</text>
<text transform="translate(136.74,2277.4) scale(0.86,1.05)" x="0" y="0" font-family="Liberation Sans" font-size="24" fill="#000" stroke="#fff" stroke-width="0.25" textLength="677.07" lengthAdjust="spacing">Confidence Intervals: Estimated based on t-distribution</text>
<text transform="translate(285,2121.4) scale(1.0,1.06)" x="0" y="0" font-family="Liberation Sans" font-size="29.5" font-weight="bold" fill="#000" textLength="187.25" lengthAdjust="spacing">Hepatopaties</text>
<text x="416.1" y="2319.6" font-family="Liberation Serif" font-size="30" fill="#000">E</text>
<text transform="translate(703.04,1902) scale(0.93,1.08)" x="0" y="0" font-family="Liberation Sans" font-size="23" fill="#111" textLength="88.69" lengthAdjust="spacing">Primary</text>
<text transform="translate(704.47,1926.5) scale(0.93,1.08)" x="0" y="0" font-family="Liberation Sans" font-size="23" fill="#111" textLength="81.98" lengthAdjust="spacing">studies</text>
<text transform="translate(703.54,1957.7) scale(0.93,1.08)" x="0" y="0" font-family="Liberation Sans" font-size="23" fill="#111" textLength="64.95" lengthAdjust="spacing">Meta-</text>
<text transform="translate(703.04,1982.3) scale(0.93,1.08)" x="0" y="0" font-family="Liberation Sans" font-size="23" fill="#111" textLength="120.27" lengthAdjust="spacing">regression</text>
<text transform="translate(703.54,2006.2) scale(0.93,1.08)" x="0" y="0" font-family="Liberation Sans" font-size="23" fill="#111" textLength="159.27" lengthAdjust="spacing">prediction line</text>
<text transform="translate(702.2,2037.9) scale(1.0,1.08)" x="0" y="0" font-family="Liberation Sans" font-size="23" fill="#111" textLength="49.05" lengthAdjust="spacing">95%</text>
<text transform="translate(704.37,2061.7) scale(0.93,1.08)" x="0" y="0" font-family="Liberation Sans" font-size="23" fill="#111" textLength="122.36" lengthAdjust="spacing">confidence</text>
<text transform="translate(703.44,2088) scale(0.93,1.08)" x="0" y="0" font-family="Liberation Sans" font-size="23" fill="#111" textLength="92.87" lengthAdjust="spacing">intervals</text>
<text transform="translate(119.3,2074.9) scale(1.0,1.07)" x="0" y="0" font-family="Liberation Sans" font-size="20" fill="#111" stroke="#fff" stroke-width="0.12">0.0</text>
<text transform="translate(218.2,2074.9) scale(1.0,1.07)" x="0" y="0" font-family="Liberation Sans" font-size="20" fill="#111" stroke="#fff" stroke-width="0.12">0.2</text>
<text transform="translate(316.4,2074.9) scale(1.0,1.07)" x="0" y="0" font-family="Liberation Sans" font-size="20" fill="#111" stroke="#fff" stroke-width="0.12">0.4</text>
<text transform="translate(413.3,2074.9) scale(1.0,1.07)" x="0" y="0" font-family="Liberation Sans" font-size="20" fill="#111" stroke="#fff" stroke-width="0.12">0.6</text>
<text transform="translate(511.3,2074.9) scale(1.0,1.07)" x="0" y="0" font-family="Liberation Sans" font-size="20" fill="#111" stroke="#fff" stroke-width="0.12">0.8</text>
<text transform="translate(609.5,2074.9) scale(1.0,1.07)" x="0" y="0" font-family="Liberation Sans" font-size="20" fill="#111" stroke="#fff" stroke-width="0.12">1.0</text>
</svg></body></html>
